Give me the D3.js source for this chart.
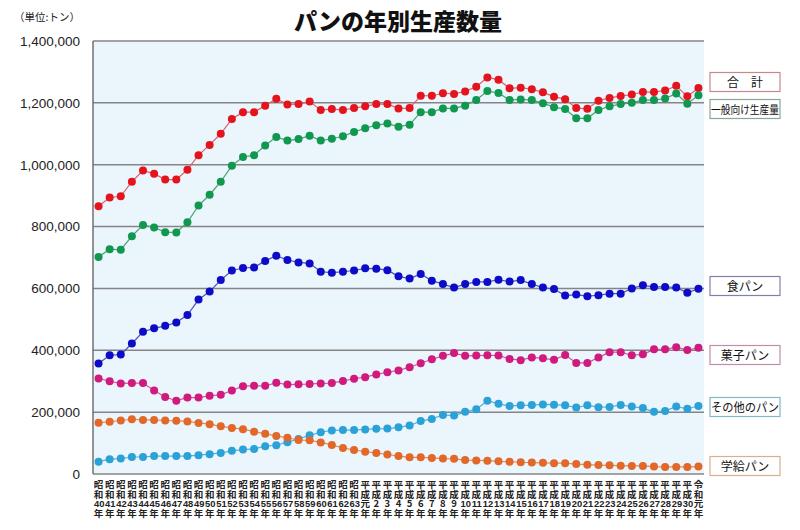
<!DOCTYPE html>
<html><head><meta charset="utf-8">
<script src="https://cdn.jsdelivr.net/npm/d3@7"></script>
<style>
body{margin:0;background:#fff}
svg{display:block}
#wrap{position:relative;width:800px;height:530px}
.xl{position:absolute;top:480px;width:10px;writing-mode:vertical-rl;text-orientation:upright;font-family:"Noto Sans CJK JP",sans-serif;font-size:9.5px;line-height:10px;font-weight:700;color:#222;white-space:nowrap}
.xl .n{text-combine-upright:all;font-family:"Liberation Sans Narrow","Liberation Sans",Arial,sans-serif;font-weight:700}
</style>
</head><body><div id="wrap"><svg id="c" width="800" height="530"></svg></div>
<script>
const years = [];
for (let n = 40; n <= 63; n++) years.push(["昭和",String(n),"年"]);
years.push(["平成","元","年"]);
for (let n = 2; n <= 30; n++) years.push(["平成",String(n),"年"]);
years.push(["令和","元","年"]);

const total = [866000,894000,898000,945000,981000,971000,952000,952000,984000,1031000,1064000,1100000,1148000,1170000,1170000,1191000,1213000,1195000,1196000,1204000,1177000,1180000,1177000,1183000,1189000,1196000,1196000,1182000,1183000,1223000,1223000,1231000,1229000,1237000,1252000,1282000,1275000,1247000,1249000,1244000,1234000,1220000,1212000,1183000,1181000,1207000,1216000,1222000,1227000,1235000,1235000,1240000,1255000,1221000,1248000];
const general = [702000,727000,725000,769000,805000,797000,782000,781000,814000,868000,903000,945000,997000,1025000,1031000,1062000,1090000,1078000,1083000,1094000,1078000,1084000,1092000,1106000,1118000,1128000,1133000,1123000,1129000,1170000,1170000,1182000,1182000,1191000,1209000,1238000,1232000,1209000,1211000,1209000,1199000,1186000,1180000,1150000,1150000,1177000,1189000,1196000,1200000,1209000,1209000,1214000,1230000,1197000,1225000];
const shokupan = [357000,384000,386000,422000,460000,471000,479000,490000,514000,564000,590000,627000,658000,666000,668000,689000,706000,692000,684000,681000,654000,651000,654000,658000,665000,664000,659000,639000,632000,647000,625000,614000,603000,614000,621000,621000,628000,622000,627000,614000,603000,598000,577000,580000,575000,578000,583000,583000,600000,610000,605000,605000,603000,586000,599000];
const kashipan = [309000,300000,293000,294000,294000,270000,249000,237000,247000,247000,253000,256000,270000,284000,285000,285000,295000,289000,290000,291000,293000,294000,301000,308000,313000,322000,329000,335000,345000,358000,371000,382000,391000,382000,383000,384000,383000,372000,368000,377000,374000,369000,385000,359000,359000,377000,394000,394000,384000,387000,403000,403000,410000,401000,408000];
const sonota = [40000,48000,50000,55000,55000,58000,58000,58000,58000,61000,64000,68000,75000,79000,81000,90000,93000,103000,113000,125000,135000,141000,142000,142000,144000,146000,147000,151000,157000,171000,178000,191000,189000,201000,209000,237000,227000,220000,222000,223000,225000,224000,222000,215000,222000,216000,217000,223000,218000,213000,201000,204000,218000,211000,220000];
const gakkyu = [166000,169000,173000,177000,175000,175000,173000,172000,170000,165000,161000,154000,149000,145000,137000,130000,123000,117000,110000,109000,102000,94000,84000,78000,72000,68000,63000,58000,54000,54000,52000,50000,49000,45000,44000,43000,41000,40000,38000,37000,36000,35000,35000,32000,30000,29000,28000,27000,26000,26000,24000,23000,23000,23000,24000];
const yTicks = [0,200000,400000,600000,800000,1000000,1200000,1400000];

const seriesNames = ["合　計","一般向け生産量","食パン","菓子パン","その他のパン","学給パン"];
const seriesData = [total, general, shokupan, kashipan, sonota, gakkyu];
const seriesColors = ["#e3141e","#109850","#0c0cc8","#d01a7e","#2aa2d8","#e2682a"];
const lineColors = ["#e0606a","#4aa070","#5050b8","#c85a98","#58b0d8","#e08a5a"];
const boxColors = ["#c9868e","#86a892","#8080a8","#c48aa8","#80b8c8","#d8b090"];
const boxYs = [82, 109, 286, 355, 407, 466];

const svg = d3.select("#c");
const L = 93, R = 704, T = 41, B = 474;
const x = d3.scalePoint().domain(d3.range(years.length)).range([L, R]).padding(0.5);
const y = d3.scaleLinear().domain([0, 1400000]).range([B, T]);

svg.append("rect").attr("x", L).attr("y", T).attr("width", R - L).attr("height", B - T).attr("fill", "#ebf5fc");

// grid
svg.append("g").selectAll("line").data(yTicks).join("line")
  .attr("x1", L).attr("x2", R).attr("y1", d => y(d)).attr("y2", d => y(d))
  .attr("stroke", "#858585").attr("stroke-width", 1.5);
svg.append("line").attr("x1", L).attr("x2", L).attr("y1", T).attr("y2", B).attr("stroke", "#707070").attr("stroke-width", 1.5);

// y axis labels
const yAxis = d3.axisLeft(y).tickValues(yTicks).tickFormat(d3.format(",")).tickSize(0).tickPadding(13);
const ga = svg.append("g").attr("transform", `translate(${L},0)`).call(yAxis);
ga.select(".domain").remove();
ga.selectAll("text").attr("font-family", "Liberation Sans, Arial, sans-serif").attr("font-size", 13.5).attr("fill", "#222");

svg.append("text").attr("x", 80).attr("y", 21).attr("text-anchor", "end").attr("font-family", "Noto Sans CJK JP").attr("font-size", 10.5).attr("fill", "#222").text("（単位:トン）");

svg.append("text").attr("x", 398).attr("y", 30).attr("text-anchor", "middle")
  .attr("font-family", "Noto Sans CJK JP").attr("font-weight", 900).attr("font-size", 23).attr("fill", "#111").text("パンの年別生産数量");

// x labels: vertical HTML text, one element per year
const wrap = d3.select("#wrap");
years.forEach((lab, i) => {
  const d = wrap.append("div").attr("class", "xl").style("left", (x(i) - 5) + "px");
  d.append("span").text(lab[0]);
  d.append("span").attr("class", lab[1].length > 1 ? "n" : null).text(lab[1]);
  d.append("span").text(lab[2]);
});

// series
const line = d3.line().x((d, i) => x(i)).y(d => y(d));
seriesData.forEach((data, k) => {
  const g = svg.append("g");
  g.append("path").attr("d", line(data)).attr("fill", "none").attr("stroke", lineColors[k]).attr("stroke-width", 1.2);
  g.selectAll("circle").data(data).join("circle")
    .attr("cx", (d, i) => x(i)).attr("cy", d => y(d)).attr("r", 4).attr("fill", seriesColors[k]);
});

// legend boxes
seriesNames.forEach((name, k) => {
  const g = svg.append("g");
  g.append("rect").attr("x", 710).attr("y", boxYs[k] - 9.5).attr("width", 70).attr("height", 19)
    .attr("fill", "#fff").attr("stroke", boxColors[k]).attr("stroke-width", 1.2);
  const t = g.append("text").attr("x", 745).attr("y", boxYs[k] + 4.5).attr("text-anchor", "middle")
    .attr("font-family", "Noto Sans CJK JP").attr("font-size", 12).attr("fill", "#111").text(name);
  if (k === 1) t.attr("font-size", 11).attr("textLength", 68).attr("lengthAdjust", "spacingAndGlyphs");
  if (k === 4) t.attr("font-size", 12).attr("textLength", 68).attr("lengthAdjust", "spacingAndGlyphs");
});
</script></body></html>
